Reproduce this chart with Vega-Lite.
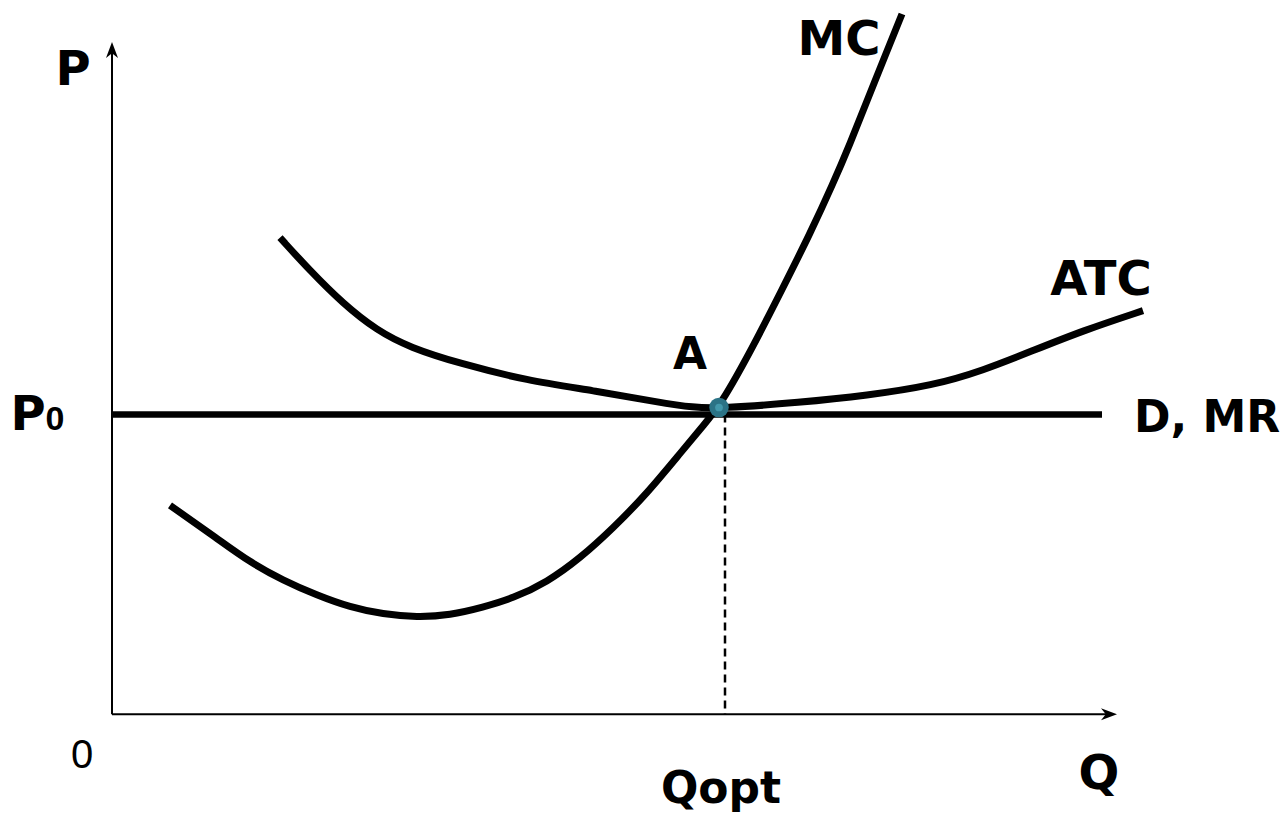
{
  "$schema": "https://vega.github.io/schema/vega-lite/v6.json",
  "width": 1286,
  "height": 817,
  "autosize": {"type": "fit", "contains": "padding"},
  "padding": 0,
  "background": "white",
  "config": {"view": {"stroke": null}},
  "datasets": {
    "curves": [
      {"curve": "MC", "q": 5.8, "p": 20.9},
      {"curve": "MC", "q": 10.5, "p": 17.6},
      {"curve": "MC", "q": 13.8, "p": 15.2},
      {"curve": "MC", "q": 17.1, "p": 13.4},
      {"curve": "MC", "q": 20.5, "p": 11.9},
      {"curve": "MC", "q": 23.8, "p": 10.7},
      {"curve": "MC", "q": 27.1, "p": 10.0},
      {"curve": "MC", "q": 30.5, "p": 9.7},
      {"curve": "MC", "q": 33.8, "p": 9.9},
      {"curve": "MC", "q": 37.1, "p": 10.7},
      {"curve": "MC", "q": 40.1, "p": 11.6},
      {"curve": "MC", "q": 43.5, "p": 13.2},
      {"curve": "MC", "q": 46.8, "p": 15.6},
      {"curve": "MC", "q": 50.1, "p": 18.6},
      {"curve": "MC", "q": 53.5, "p": 22.1},
      {"curve": "MC", "q": 56.8, "p": 26.1},
      {"curve": "MC", "q": 59.3, "p": 29.1},
      {"curve": "MC", "q": 60.8, "p": 30.9},
      {"curve": "MC", "q": 63.8, "p": 36.2},
      {"curve": "MC", "q": 67.1, "p": 42.7},
      {"curve": "MC", "q": 69.8, "p": 48.1},
      {"curve": "MC", "q": 72.1, "p": 53.1},
      {"curve": "MC", "q": 73.8, "p": 57.1},
      {"curve": "MC", "q": 75.5, "p": 61.4},
      {"curve": "MC", "q": 77.3, "p": 65.9},
      {"curve": "MC", "q": 79.0, "p": 70.1},
      {"curve": "ATC", "q": 16.8, "p": 47.7},
      {"curve": "ATC", "q": 19.8, "p": 44.4},
      {"curve": "ATC", "q": 23.1, "p": 41.1},
      {"curve": "ATC", "q": 26.5, "p": 38.4},
      {"curve": "ATC", "q": 29.8, "p": 36.7},
      {"curve": "ATC", "q": 34.8, "p": 35.1},
      {"curve": "ATC", "q": 41.5, "p": 33.4},
      {"curve": "ATC", "q": 48.1, "p": 32.4},
      {"curve": "ATC", "q": 54.8, "p": 31.2},
      {"curve": "ATC", "q": 58.1, "p": 30.7},
      {"curve": "ATC", "q": 60.8, "p": 30.6},
      {"curve": "ATC", "q": 68.8, "p": 31.2},
      {"curve": "ATC", "q": 75.5, "p": 31.9},
      {"curve": "ATC", "q": 82.1, "p": 32.9},
      {"curve": "ATC", "q": 87.1, "p": 34.4},
      {"curve": "ATC", "q": 92.1, "p": 36.4},
      {"curve": "ATC", "q": 97.1, "p": 38.4},
      {"curve": "ATC", "q": 103.1, "p": 40.4}
    ],
    "segments": [
      {"seg": "yaxis", "q": 0, "p": 0, "q2": 0, "p2": 66.5},
      {"seg": "xaxis", "q": 0, "p": 0, "q2": 99.7, "p2": 0},
      {"seg": "dmr", "q": 0, "p": 30.0, "q2": 99.0, "p2": 30.0},
      {"seg": "dash", "q": 61.3, "p": 30.0, "q2": 61.3, "p2": 0}
    ],
    "arrows": [
      {"dir": "up", "q": 0, "p": 66.5},
      {"dir": "right", "q": 99.7, "p": 0}
    ],
    "points": [
      {"name": "A", "q": 60.7, "p": 30.7}
    ],
    "labels": [
      {"group": "big", "text": "P", "q": -3.9, "p": 63.0},
      {"group": "big", "text": "P", "q": -8.4, "p": 28.4},
      {"group": "big", "text": "MC", "q": 72.7, "p": 66.0},
      {"group": "big", "text": "ATC", "q": 98.9, "p": 42.0},
      {"group": "big", "text": "Q", "q": 98.7, "p": -7.5},
      {"group": "mid", "text": "A", "q": 57.8, "p": 34.6},
      {"group": "mid", "text": "D, MR", "q": 109.5, "p": 28.2},
      {"group": "mid", "text": "Qopt", "q": 60.9, "p": -8.9},
      {"group": "sub", "text": "0", "q": -5.7, "p": 28.4},
      {"group": "origin", "text": "0", "q": -3.0, "p": -5.4}
    ]
  },
  "encoding": {
    "x": {"field": "q", "type": "quantitative", "scale": {"domain": [-11.2, 117.4], "nice": false, "zero": false}, "axis": null},
    "y": {"field": "p", "type": "quantitative", "scale": {"domain": [-10.3, 71.4], "nice": false, "zero": false}, "axis": null}
  },
  "layer": [
    {
      "data": {"name": "segments"},
      "transform": [{"filter": "datum.seg === 'yaxis' || datum.seg === 'xaxis'"}],
      "mark": {"type": "rule", "color": "black", "strokeWidth": 2},
      "encoding": {"x2": {"field": "q2"}, "y2": {"field": "p2"}}
    },
    {
      "data": {"name": "segments"},
      "transform": [{"filter": "datum.seg === 'dash'"}],
      "mark": {"type": "rule", "color": "black", "strokeWidth": 2.5, "strokeDash": [8, 5]},
      "encoding": {"x2": {"field": "q2"}, "y2": {"field": "p2"}}
    },
    {
      "data": {"name": "segments"},
      "transform": [{"filter": "datum.seg === 'dmr'"}],
      "mark": {"type": "rule", "color": "black", "strokeWidth": 6.5, "strokeCap": "butt"},
      "encoding": {"x2": {"field": "q2"}, "y2": {"field": "p2"}}
    },
    {
      "data": {"name": "curves"},
      "mark": {"type": "line", "color": "black", "strokeWidth": 7, "interpolate": "basis", "strokeCap": "butt"},
      "encoding": {"detail": {"field": "curve"}}
    },
    {
      "data": {"name": "points"},
      "mark": {"type": "point", "shape": "circle", "filled": true, "size": 380, "color": "#2b7386", "opacity": 1, "strokeWidth": 0}
    },
    {
      "data": {"name": "points"},
      "mark": {"type": "point", "shape": "circle", "filled": true, "size": 60, "color": "#4298ab", "opacity": 1, "strokeWidth": 0}
    },
    {
      "data": {"name": "arrows"},
      "transform": [{"filter": "datum.dir === 'up'"}],
      "mark": {"type": "point", "shape": "M0,-1L0.75,1L0,0.4L-0.75,1Z", "filled": true, "size": 256, "color": "black", "opacity": 1, "strokeWidth": 0}
    },
    {
      "data": {"name": "arrows"},
      "transform": [{"filter": "datum.dir === 'right'"}],
      "mark": {"type": "point", "shape": "M1,0L-1,0.75L-0.4,0L-1,-0.75Z", "filled": true, "size": 256, "color": "black", "opacity": 1, "strokeWidth": 0}
    },
    {
      "data": {"name": "labels"},
      "transform": [{"filter": "datum.group === 'big'"}],
      "mark": {"type": "text", "font": "DejaVu Sans", "fontWeight": "bold", "fontSize": 48, "align": "center", "baseline": "alphabetic", "color": "black"},
      "encoding": {"text": {"field": "text"}}
    },
    {
      "data": {"name": "labels"},
      "transform": [{"filter": "datum.group === 'mid'"}],
      "mark": {"type": "text", "font": "DejaVu Sans", "fontWeight": "bold", "fontSize": 44, "align": "center", "baseline": "alphabetic", "color": "black"},
      "encoding": {"text": {"field": "text"}}
    },
    {
      "data": {"name": "labels"},
      "transform": [{"filter": "datum.group === 'sub'"}],
      "mark": {"type": "text", "font": "Liberation Sans", "fontWeight": "bold", "fontSize": 34, "align": "center", "baseline": "alphabetic", "color": "black"},
      "encoding": {"text": {"field": "text"}}
    },
    {
      "data": {"name": "labels"},
      "transform": [{"filter": "datum.group === 'origin'"}],
      "mark": {"type": "text", "font": "Liberation Sans", "fontWeight": "normal", "fontSize": 40, "align": "center", "baseline": "alphabetic", "color": "black"},
      "encoding": {"text": {"field": "text"}}
    }
  ]
}
